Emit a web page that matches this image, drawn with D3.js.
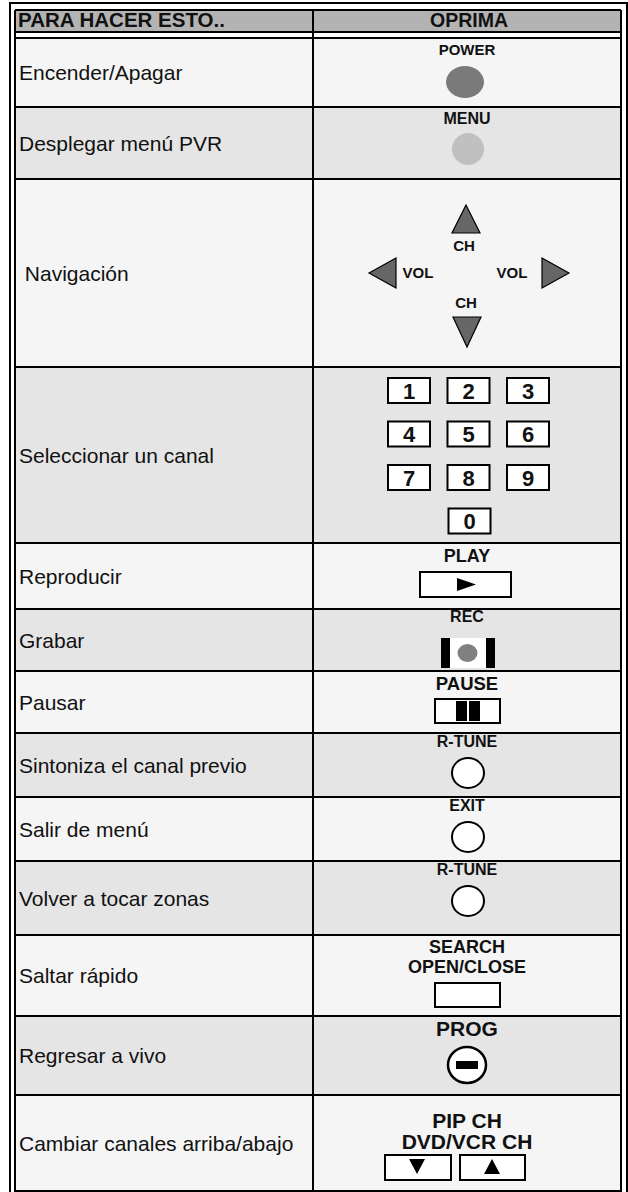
<!DOCTYPE html>
<html><head><meta charset="utf-8">
<script src="https://cdn.jsdelivr.net/npm/d3@7"></script>
<style>
body{margin:0;background:#fff}
svg{display:block}
text{font-family:"Liberation Sans",Arial,Helvetica,sans-serif;fill:#111}
</style>
</head><body>
<script>
// ---------- data ----------
const headers = ["PARA HACER ESTO..", "OPRIMA"];
const actions = ["Encender/Apagar", "Desplegar menú PVR", " Navigación", "Seleccionar un canal",
  "Reproducir", "Grabar", "Pausar", "Sintoniza el canal previo", "Salir de menú",
  "Volver a tocar zonas", "Saltar rápido", "Regresar a vivo", "Cambiar canales arriba/abajo"];
const buttonLabels = [["POWER"], ["MENU"], [], [], ["PLAY"], ["REC"], ["PAUSE"], ["R-TUNE"], ["EXIT"],
  ["R-TUNE"], ["SEARCH", "OPEN/CLOSE"], ["PROG"], ["PIP CH", "DVD/VCR CH"]];
const buttonKinds = ["power", "menu", "nav", "keypad", "play", "rec", "pause", "ring", "ring", "ring",
  "blank", "prog", "updown"];
const navLabels = ["CH", "VOL", "VOL", "CH"];
const keypadDigits = ["1", "2", "3", "4", "5", "6", "7", "8", "9", "0"];

// ---------- layout ----------
const rowHeights = [69, 72, 188, 176, 66, 62, 62, 64, 64, 74, 81, 79, 96];
const W = 628, H = 1192;
const innerL = 15, innerR = 621, outerL = 10, outerR = 627, divX = 313, cx = 467;
const firstTop = 38;
const tops = [firstTop, ...Array.from(d3.cumsum(rowHeights), v => v + firstTop)];
const rowY = d3.scaleOrdinal().domain(d3.range(actions.length)).range(tops.slice(0, -1));
const rowH = d3.scaleOrdinal().domain(d3.range(actions.length)).range(rowHeights);
const rowFill = i => (i % 2 === 0 ? "#f5f5f5" : "#e5e5e5");

const svg = d3.select("body").append("svg").attr("width", W).attr("height", H);

// header background
svg.append("rect").attr("x", innerL).attr("y", 10).attr("width", innerR - innerL).attr("height", 22).attr("fill", "#b3b3b3");
// row fills
svg.selectAll("rect.row").data(actions).join("rect").attr("class", "row")
  .attr("x", innerL).attr("y", (d, i) => rowY(i)).attr("width", innerR - innerL)
  .attr("height", (d, i) => rowH(i)).attr("fill", (d, i) => rowFill(i));

// grid lines
const line = (x1, y1, x2, y2) => svg.append("line").attr("x1", x1).attr("y1", y1).attr("x2", x2).attr("y2", y2)
  .attr("stroke", "#000").attr("stroke-width", 2);
[10, 32].forEach(v => line(innerL, v, innerR, v));
tops.forEach(v => line(innerL, v, innerR, v));
line(divX, 10, divX, tops[tops.length - 1]);
line(innerL, 10, innerL, H); line(innerR, 10, innerR, H);
line(outerL, 3, outerL, H); line(outerR, 3, outerR, H); line(outerL - 1, 3, outerR + 1, 3);

// header text
svg.append("text").attr("x", 18).attr("y", 27).attr("font-size", 20.5).attr("font-weight", "bold").text(headers[0]);
svg.append("text").attr("x", cx + 2).attr("y", 27).attr("font-size", 19.5).attr("font-weight", "bold")
  .attr("text-anchor", "middle").text(headers[1]);

// action text
svg.selectAll("text.act").data(actions).join("text").attr("class", "act")
  .attr("x", 19).attr("y", (d, i) => rowY(i) + rowH(i) / 2 + 7.5)
  .attr("font-size", 21).style("white-space", "pre").text(d => d);

// ---------- buttons ----------
const labelSize = {power: 15, menu: 16, play: 18, rec: 16, pause: 18.5, ring: 16, blank: 18, prog: 21, updown: 21};
const labelBase = {power: [17], menu: [17], play: [19], rec: [13], pause: [19], ring: [14], blank: [18, 38], prog: [20], updown: [33, 54]};

buttonKinds.forEach((kind, i) => {
  const t = rowY(i);
  const g = svg.append("g");
  buttonLabels[i].forEach((lab, k) => {
    g.append("text").attr("x", cx).attr("y", t + labelBase[kind][k]).attr("text-anchor", "middle")
      .attr("font-weight", "bold").attr("font-size", labelSize[kind]).text(lab);
  });
  const tri = (pts, fill, sw) => g.append("path").attr("d", d3.line()(pts) + "Z")
    .attr("fill", fill).attr("stroke", "#000").attr("stroke-width", sw).attr("stroke-linejoin", "miter");
  if (kind === "power") {
    g.append("ellipse").attr("cx", cx - 2).attr("cy", t + 44).attr("rx", 19).attr("ry", 16).attr("fill", "#7a7a7a");
  } else if (kind === "menu") {
    g.append("ellipse").attr("cx", cx + 1).attr("cy", t + 42).attr("rx", 16).attr("ry", 16).attr("fill", "#c0c0c0");
  } else if (kind === "nav") {
    tri([[cx - 1, t + 26], [cx - 15, t + 54], [cx + 13, t + 54]], "#666", 1.2);
    tri([[cx, t + 168], [cx - 14, t + 138], [cx + 14, t + 138]], "#666", 1.2);
    tri([[369, t + 94], [396, t + 79], [396, t + 109]], "#666", 1.2);
    tri([[569, t + 94], [542, t + 79], [542, t + 109]], "#666", 1.2);
    const navPos = [[cx - 3, t + 72], [418, t + 99], [512, t + 99], [cx - 1, t + 129]];
    g.selectAll("text.nav").data(navLabels).join("text").attr("class", "nav")
      .attr("x", (d, j) => navPos[j][0]).attr("y", (d, j) => navPos[j][1]).attr("text-anchor", "middle")
      .attr("font-weight", "bold").attr("font-size", 15).text(d => d);
  } else if (kind === "keypad") {
    const colX = d3.scalePoint().domain([0, 1, 2]).range([409, 528]);
    const rowYk = d3.scaleLinear().domain([0, 3]).range([t + 11, t + 141.5]);
    const keys = g.selectAll("g.key").data(keypadDigits).join("g").attr("class", "key")
      .attr("transform", (d, j) => {
        const r = Math.floor(j / 3), c = j === 9 ? 1 : j % 3;
        return `translate(${colX(c) - 21 + (j === 9 ? 1 : 0)},${rowYk(r)})`;
      });
    keys.append("rect").attr("width", 42).attr("height", 25).attr("fill", "#fff").attr("stroke", "#000").attr("stroke-width", 2);
    keys.append("text").attr("x", 21).attr("y", 20.5).attr("text-anchor", "middle").attr("font-weight", "bold")
      .attr("font-size", 22).text(d => d);
  } else if (kind === "play") {
    g.append("rect").attr("x", 420).attr("y", t + 29).attr("width", 91).attr("height", 25).attr("fill", "#fff").attr("stroke", "#000").attr("stroke-width", 2);
    g.append("path").attr("d", d3.line()([[457, t + 35], [476, t + 41.5], [457, t + 48]]) + "Z").attr("fill", "#000");
  } else if (kind === "rec") {
    g.append("rect").attr("x", 441).attr("y", t + 29).attr("width", 54).attr("height", 30).attr("fill", "#fff");
    g.append("rect").attr("x", 441).attr("y", t + 29).attr("width", 9).attr("height", 30).attr("fill", "#000");
    g.append("rect").attr("x", 486).attr("y", t + 29).attr("width", 9).attr("height", 30).attr("fill", "#000");
    g.append("ellipse").attr("cx", 467.5).attr("cy", t + 44).attr("rx", 10).attr("ry", 9).attr("fill", "#808080");
  } else if (kind === "pause") {
    g.append("rect").attr("x", 435).attr("y", t + 28).attr("width", 65).attr("height", 24).attr("fill", "#fff").attr("stroke", "#000").attr("stroke-width", 2);
    g.append("rect").attr("x", 456).attr("y", t + 30).attr("width", 11).attr("height", 20).attr("fill", "#000");
    g.append("rect").attr("x", 469).attr("y", t + 30).attr("width", 11).attr("height", 20).attr("fill", "#000");
  } else if (kind === "ring") {
    g.append("ellipse").attr("cx", cx + 1).attr("cy", t + 40).attr("rx", 16).attr("ry", 15).attr("fill", "#fff").attr("stroke", "#000").attr("stroke-width", 2);
  } else if (kind === "blank") {
    g.append("rect").attr("x", 435).attr("y", t + 48).attr("width", 65).attr("height", 24).attr("fill", "#fff").attr("stroke", "#000").attr("stroke-width", 2);
  } else if (kind === "prog") {
    g.append("ellipse").attr("cx", cx).attr("cy", t + 49).attr("rx", 19).attr("ry", 18).attr("fill", "#fff").attr("stroke", "#000").attr("stroke-width", 2.5);
    g.append("rect").attr("x", cx - 11).attr("y", t + 45).attr("width", 22).attr("height", 8).attr("fill", "#000");
  } else if (kind === "updown") {
    g.append("rect").attr("x", 385).attr("y", t + 60).attr("width", 66).attr("height", 25).attr("fill", "#fff").attr("stroke", "#000").attr("stroke-width", 2);
    g.append("rect").attr("x", 460).attr("y", t + 60).attr("width", 65).attr("height", 25).attr("fill", "#fff").attr("stroke", "#000").attr("stroke-width", 2);
    g.append("path").attr("d", d3.line()([[409, t + 64], [425, t + 64], [417, t + 79]]) + "Z").attr("fill", "#000");
    g.append("path").attr("d", d3.line()([[484, t + 79], [500, t + 79], [492, t + 64]]) + "Z").attr("fill", "#000");
  }
});
</script>
</body></html>
